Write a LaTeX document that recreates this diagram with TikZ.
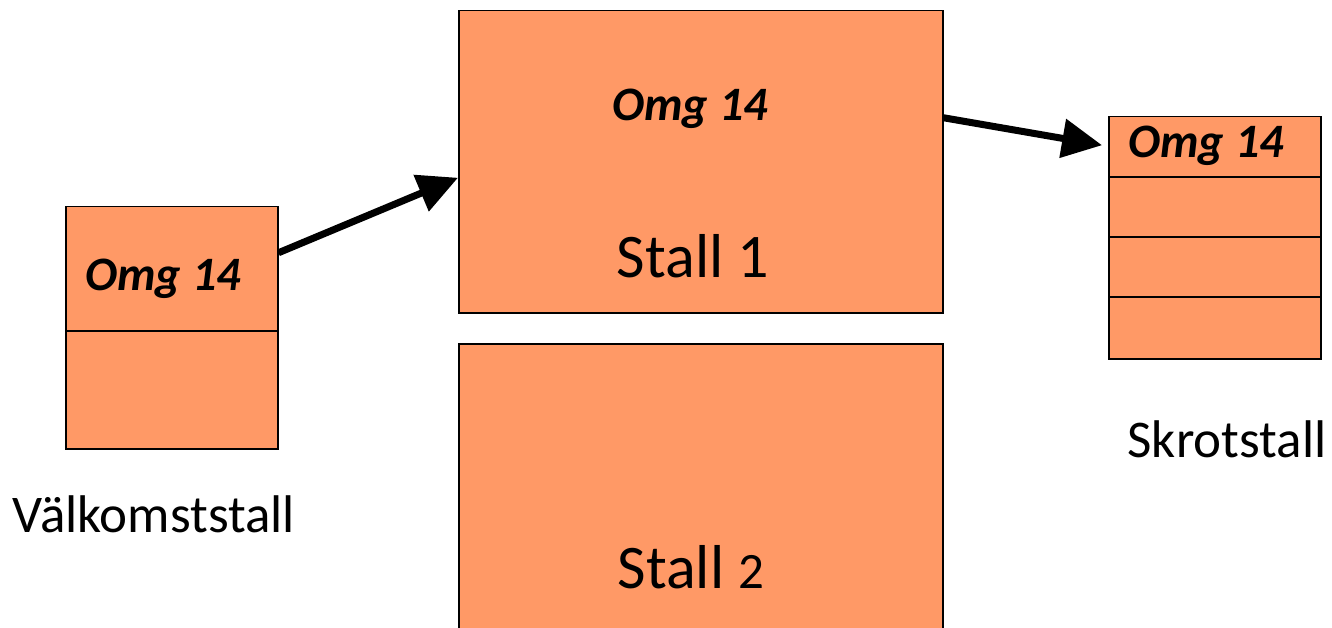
\documentclass[tikz,border=0pt]{standalone}
\usepackage{fontspec}
\setmainfont{Carlito}
\usetikzlibrary{arrows.meta}
\definecolor{boxfill}{RGB}{255,153,102}
\tikzset{
  box/.style={draw=black, line width=1.5pt, fill=boxfill, anchor=north west, inner sep=0pt},
  omg/.style={font=\fontsize{48pt}{48pt}\selectfont\bfseries\itshape, anchor=base, inner sep=0pt},
  big/.style={font=\fontsize{62pt}{62pt}\selectfont, anchor=base, inner sep=0pt},
  lbl/.style={font=\fontsize{53pt}{53pt}\selectfont, anchor=base, inner sep=0pt},
  divider/.style={draw=black, line width=1.5pt},
  arr/.style={draw=black, line width=7pt, -{Triangle[length=40pt,width=38pt]}}
}
\begin{document}
\begin{tikzpicture}[x=1pt,y=-1pt]
\useasboundingbox (0,0) rectangle (1332,628);
\clip (0,0) rectangle (1332,628);
% boxes
\node[box, minimum width=212pt, minimum height=242pt] (wel) at (65,206) {};
\node[box, minimum width=484pt, minimum height=302pt] (s1) at (458,10) {};
\node[box, minimum width=484pt, minimum height=300pt] (s2) at (458,343) {};
\node[box, minimum width=212pt, minimum height=242pt] (skr) at (1108,116) {};
% dividers
\draw[divider] (wel.west |- 0,331) -- (wel.east |- 0,331);
\draw[divider] (skr.west |- 0,177) -- (skr.east |- 0,177);
\draw[divider] (skr.west |- 0,237) -- (skr.east |- 0,237);
\draw[divider] (skr.west |- 0,297) -- (skr.east |- 0,297);
% texts
\node[omg] (t1) at (163,290) {Omg 14};
\node[omg] (t2) at (690,121) {Omg 14};
\node[omg] (t3) at (1206,158) {Omg 14};
\node[big] (st1) at (693,277) {Stall 1};
\node[big] (st2) at (691,588) {Stall {\fontsize{51pt}{51pt}\selectfont 2}};
\node[lbl] (lw) at (154,532) {Välkomststall};
\node[lbl] (ls) at (1227,457) {Skrotstall};
% arrows
\draw[arr] ([yshift=75pt]wel.east) -- ([yshift=-16pt]s1.west);
\draw[arr, shorten >=6pt] ([yshift=44pt]s1.east) -- ([yshift=91.5pt]skr.west);
\end{tikzpicture}
\end{document}
